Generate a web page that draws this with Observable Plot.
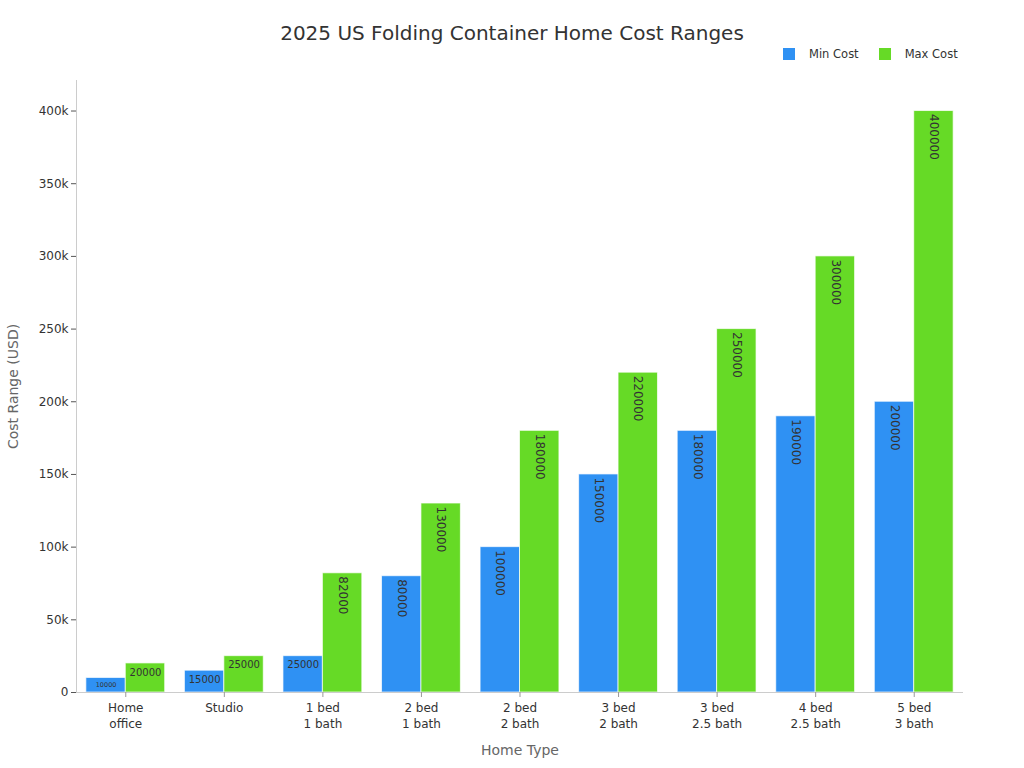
<!DOCTYPE html>
<html>
<head>
<meta charset="utf-8">
<script src="https://cdn.jsdelivr.net/npm/d3@7"></script>
<script src="https://cdn.jsdelivr.net/npm/@observablehq/plot@0.6"></script>
<style>
  body { margin: 0; background: #fff; font-family: "DejaVu Sans", sans-serif; }
  #wrap { position: relative; width: 1024px; height: 768px; }
  #title { position: absolute; top: 21px; left: 0; width: 1024px; text-align: center; font-size: 20px; color: #333; }
  #legend { position: absolute; top: 47px; left: 783px; font-size: 11.5px; color: #333; display: flex; align-items: center; }
  .sw { display: inline-block; width: 12px; height: 12px; margin-right: 14px; }
  .lab { margin-right: 20px; }
</style>
</head>
<body>
<div id="wrap">
  <div id="chart"></div>
  <div id="title">2025 US Folding Container Home Cost Ranges</div>
  <div id="legend"></div>
</div>
<script>
const categories = ["Home\noffice", "Studio", "1 bed\n1 bath", "2 bed\n1 bath", "2 bed\n2 bath", "3 bed\n2 bath", "3 bed\n2.5 bath", "4 bed\n2.5 bath", "5 bed\n3 bath"];
const minCost = [10000, 15000, 25000, 80000, 100000, 150000, 180000, 190000, 200000];
const maxCost = [20000, 25000, 82000, 130000, 180000, 220000, 250000, 300000, 400000];
const seriesNames = ["Min Cost", "Max Cost"];
const seriesColors = ["#2F91F3", "#66DA26"];
const yTicks = [0, 50000, 100000, 150000, 200000, 250000, 300000, 350000, 400000];

const W = 1024, H = 768;
const mL = 76, mR = 61, mT = 80, mB = 76;
const pIn = 0.2, pOut = 0.1;
const step = (W - mL - mR) / (categories.length - pIn + 2 * pOut);
const half = step * (1 - pIn) / 2;

const rows = [];
categories.forEach((c, i) => {
  rows.push({cat: c, series: "Min Cost", value: minCost[i]});
  rows.push({cat: c, series: "Max Cost", value: maxCost[i]});
});
const isMin = d => d.series === "Min Cost";
const big = d => d.value >= 50000;

const text = (data, opts) => Plot.text(data, {x: "cat", y: "value", text: d => String(d.value), fill: "#333", ...opts});

const plot = Plot.plot({
  width: W, height: H,
  marginLeft: mL, marginRight: mR, marginTop: mT, marginBottom: mB,
  style: {fontFamily: "DejaVu Sans, sans-serif", fontSize: "12px", color: "#333", background: "#fff"},
  x: {domain: categories, paddingInner: pIn, paddingOuter: pOut, round: false, label: null},
  y: {domain: [0, 421000], label: null},
  color: {domain: seriesNames, range: seriesColors},
  marks: [
    Plot.barY(rows.filter(isMin), {x: "cat", y: "value", fill: "series", insetLeft: 0, insetRight: half, stroke: "#fff", strokeOpacity: 0.7, strokeWidth: 1}),
    Plot.barY(rows.filter(d => !isMin(d)), {x: "cat", y: "value", fill: "series", insetLeft: half, insetRight: 0, stroke: "#fff", strokeOpacity: 0.7, strokeWidth: 1}),
    // rotated labels on tall bars
    text(rows.filter(d => isMin(d) && big(d)), {rotate: 90, textAnchor: "start", lineAnchor: "middle", dx: -half / 2, dy: 3, fontSize: 12}),
    text(rows.filter(d => !isMin(d) && big(d)), {rotate: 90, textAnchor: "start", lineAnchor: "middle", dx: half / 2, dy: 3, fontSize: 12}),
    // horizontal labels on short bars
    text(rows.filter(d => isMin(d) && !big(d) && d.value > 12000), {textAnchor: "middle", lineAnchor: "top", dx: -half / 2, dy: 5, fontSize: 10}),
    text(rows.filter(d => isMin(d) && d.value <= 12000), {textAnchor: "middle", lineAnchor: "top", dx: -half / 2, dy: 4, fontSize: 6.5}),
    text(rows.filter(d => !isMin(d) && !big(d)), {textAnchor: "middle", lineAnchor: "top", dx: half / 2, dy: 5, fontSize: 10}),
    Plot.ruleY([0], {stroke: "#ccc"}),
    Plot.frame({anchor: "left", stroke: "#ccc"}),
    Plot.axisY({ticks: yTicks, tickFormat: d => d === 0 ? "0" : (d / 1000) + "k", tickSize: 5, tickPadding: 3, stroke: "#555", fill: "#333", fontSize: 12, label: null}),
    Plot.axisX({tickSize: 5, tickPadding: 3, lineHeight: 1.33, stroke: "#999", fill: "#333", fontSize: 12, label: null}),
    Plot.text(["Cost Range (USD)"], {frameAnchor: "left", textAnchor: "middle", rotate: -90, dx: -63, fill: "#666", fontSize: 14}),
    Plot.text(["Home Type"], {frameAnchor: "bottom", dy: 62, fill: "#666", fontSize: 14})
  ]
});
document.getElementById("chart").appendChild(plot);

const legend = document.getElementById("legend");
seriesNames.forEach((s, i) => {
  const sw = document.createElement("span");
  sw.className = "sw"; sw.style.background = seriesColors[i];
  const lb = document.createElement("span");
  lb.className = "lab"; lb.textContent = s;
  legend.appendChild(sw); legend.appendChild(lb);
});
</script>
</body>
</html>
